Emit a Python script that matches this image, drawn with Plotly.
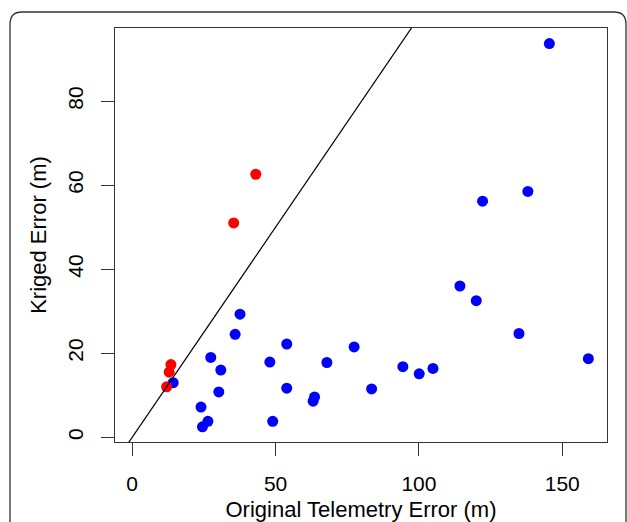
import plotly.graph_objects as go

# Data
blue_x = [145.5, 138.0, 122.2, 114.3, 120.0, 134.9, 159.1, 94.4, 100.1, 104.9,
          83.5, 77.4, 67.9, 63.6, 63.1, 53.9, 53.9, 48.0, 49.0, 37.6,
          35.9, 27.4, 30.9, 30.2, 24.0, 26.4, 24.5, 14.3]
blue_y = [93.7, 58.5, 56.2, 36.0, 32.5, 24.7, 18.7, 16.8, 15.1, 16.4,
          11.5, 21.5, 17.8, 9.6, 8.6, 22.2, 11.7, 17.9, 3.8, 29.3,
          24.5, 19.0, 16.0, 10.8, 7.2, 3.8, 2.5, 13.0]
red_x = [43.1, 35.4, 13.5, 12.9, 12.0]
red_y = [62.6, 51.0, 17.3, 15.5, 12.0]

x_ticks = [0, 50, 100, 150]
y_ticks = [0, 20, 40, 60, 80]
x_range = [-6.0, 165.6]
y_range = [-1.12, 97.4]

W, H = 627, 522
ML, MR, MT, MB = 115, 20, 28, 80
PW, PH = W - ML - MR, H - MT - MB

FONT = "Liberation Sans, Arial, sans-serif"

fig = go.Figure()
fig.add_trace(go.Scatter(x=blue_x, y=blue_y, mode="markers",
                         marker=dict(color="#0000FF", size=11, line=dict(width=0)),
                         showlegend=False))
fig.add_trace(go.Scatter(x=red_x, y=red_y, mode="markers",
                         marker=dict(color="#FF0000", size=11, line=dict(width=0)),
                         showlegend=False))
# 1:1 line (abline 0,1)
lo = min(x_range[0], y_range[0]); hi = max(x_range[1], y_range[1])
fig.add_trace(go.Scatter(x=[lo, hi], y=[lo, hi], mode="lines",
                         line=dict(color="black", width=1.2), showlegend=False))

def px2paper(px, py):
    return (px - ML) / PW, (H - MB - py) / PH

# rounded outer frame
l, t, r, b, rad = 10, 12, 626, 540, 12
x0, y0 = px2paper(l, b)
x1, y1 = px2paper(l, t + rad)
qx, qy = px2paper(l, t)
x2, y2 = px2paper(l + rad, t)
x3, y3 = px2paper(r - rad, t)
qx2, qy2 = px2paper(r, t)
x4, y4 = px2paper(r, t + rad)
x5, y5 = px2paper(r, b)
path = (f"M {x0},{y0} L {x1},{y1} Q {qx},{qy} {x2},{y2} L {x3},{y3} "
        f"Q {qx2},{qy2} {x4},{y4} L {x5},{y5}")
fig.add_shape(type="path", path=path, xref="paper", yref="paper",
              line=dict(color="#333333", width=1.3))

fig.update_layout(
    width=W, height=H,
    margin=dict(l=ML, r=MR, t=MT, b=MB, autoexpand=False),
    plot_bgcolor="white", paper_bgcolor="white",
    font=dict(family=FONT, color="black", size=21),
    xaxis=dict(range=x_range, tickvals=x_ticks, ticks="outside", ticklen=13,
               tickcolor="#333333", tickwidth=1, showgrid=False, zeroline=False,
               showline=True, mirror=True, linecolor="#333333", linewidth=1.2,
               tickfont=dict(size=21), ticklabelstandoff=10,
               title=dict(text="Original Telemetry Error (m)", font=dict(size=22), standoff=16)),
    yaxis=dict(range=y_range, tickvals=y_ticks, ticks="outside", ticklen=13,
               tickcolor="#333333", tickwidth=1, showgrid=False, zeroline=False,
               showline=True, mirror=True, linecolor="#333333", linewidth=1.2,
               tickangle=-90, tickfont=dict(size=21), ticklabelstandoff=10,
               title=dict(text="Kriged Error (m)", font=dict(size=22), standoff=10)),
)

fig.write_html("out.html")
